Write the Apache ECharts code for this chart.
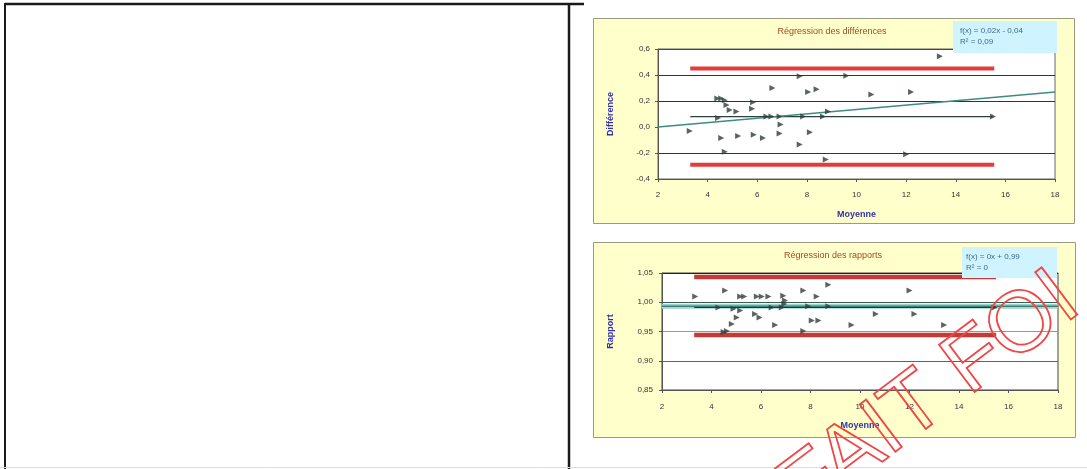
<!DOCTYPE html>
<html>
<head>
<meta charset="utf-8">
<script src="https://cdn.jsdelivr.net/npm/echarts@6/dist/echarts.min.js"></script>
<style>
html,body{margin:0;padding:0;background:#fff;}
#c{width:1087px;height:469px;}
</style>
</head>
<body>
<div id="c"></div>
<script>
// ---- Data: top chart (differences) ----
const diffX = [3.28,4.39,4.55,4.69,4.76,4.89,5.16,4.42,4.55,4.69,5.23,5.83,5.79,5.86,6.23,6.37,6.57,6.61,6.90,6.94,6.90,7.71,7.71,7.85,8.05,8.39,8.12,8.65,8.76,8.85,9.59,10.60,12.20,12.00,13.36,15.50];
const diffY = [-0.03,0.22,0.22,0.205,0.17,0.13,0.12,0.07,-0.085,-0.19,-0.07,0.19,0.14,-0.06,-0.085,0.08,0.08,0.30,0.08,0.02,-0.05,0.39,-0.135,0.08,0.27,0.29,-0.04,0.08,-0.25,0.12,0.395,0.25,0.27,-0.21,0.545,0.08];
const diffRegX = [2, 18];
const diffRegY = [0.00, 0.27];
const diffLimitX = [3.3, 15.55];
const diffUpper = 0.45;
const diffLower = -0.29;
const diffMean = 0.08;
const diffTickLabels = {'-0.4':'-0,4','-0.2':'-0,2','0':'0,0','0.2':'0,2','0.4':'0,4','0.6':'0,6'};

// ---- Data: bottom chart (ratios) ----
const ratioX = [3.34,4.55,5.16,5.32,5.83,6.03,6.30,6.90,6.97,6.94,7.71,8.25,8.72,7.91,8.72,12.00,4.28,4.89,5.16,5.76,5.94,6.57,6.43,6.84,5.02,4.82,4.62,4.49,7.71,8.05,8.32,9.66,10.64,12.20,13.40,15.44];
const ratioY = [1.010,1.020,1.010,1.010,1.010,1.010,1.010,1.011,1.003,0.997,1.020,1.010,1.030,0.993,0.993,1.020,0.991,0.989,0.986,0.980,0.974,0.961,0.991,0.991,0.974,0.963,0.951,0.949,0.951,0.969,0.969,0.961,0.980,0.980,0.961,0.991];
const ratioRegX = [2, 18];
const ratioRegY = [0.993, 0.993];
const ratioLimitX = [3.3, 15.5];
const ratioUpper = 1.043;
const ratioLower = 0.944;
const ratioMean = 0.991;
const ratioTickLabels = {'0.85':'0,85','0.9':'0,90','0.95':'0,95','1':'1,00','1.05':'1,05'};

const xTickLabels = ['2','4','6','8','10','12','14','16','18'];

const titles = ['Régression des différences', 'Régression des rapports'];
const eqTop = ['f(x) = 0,02x - 0,04', 'R² = 0,09'];
const eqBottom = ['f(x) = 0x + 0,99', 'R² = 0'];

const pts = (xs, ys) => xs.map((x, i) => [x, ys[i]]);
const hline = (xs, y) => xs.map(x => [x, y]);

const chart = echarts.init(document.getElementById('c'), null, {renderer: 'canvas'});

const labelStyle = {fontSize: 8, color: '#333', fontFamily: 'Liberation Sans'};
const nameStyle = {fontSize: 9, color: '#3232A8', fontWeight: 'bold', fontFamily: 'Liberation Sans'};

function xAxisFor(idx, margin, gap) {
  return {
    type: 'value', gridIndex: idx, min: 2, max: 18, interval: 2,
    axisLine: {show: true, onZero: false, lineStyle: {color: '#555', width: 1}},
    axisTick: {show: true, length: 3, lineStyle: {color: '#555'}},
    axisLabel: {...labelStyle, margin: margin, formatter: v => xTickLabels[(v - 2) / 2] || ''},
    splitLine: {show: false},
    name: 'Moyenne', nameLocation: 'middle', nameGap: gap, nameTextStyle: nameStyle
  };
}

const option = {
  animation: false,
  backgroundColor: 'transparent',
  grid: [
    {left: 658, top: 49, width: 397, height: 130, show: true, backgroundColor: '#fff', borderColor: '#666', borderWidth: 1},
    {left: 662, top: 273, width: 396, height: 117, show: true, backgroundColor: '#fff', borderColor: '#444', borderWidth: 1}
  ],
  xAxis: [xAxisFor(0, 12, 31), xAxisFor(1, 13, 31)],
  yAxis: [
    {
      type: 'value', gridIndex: 0, min: -0.4, max: 0.6, interval: 0.2,
      axisLine: {show: true, lineStyle: {color: '#555'}},
      axisTick: {show: true, length: 3, lineStyle: {color: '#555'}},
      axisLabel: {...labelStyle, margin: 8, formatter: v => diffTickLabels[String(+v.toFixed(2))] || ''},
      splitLine: {show: true, lineStyle: {color: ['#777', '#333', 'rgba(0,0,0,0)', '#333', '#333', '#444'], width: 1}},
      name: 'Différence', nameLocation: 'middle', nameGap: 43, nameRotate: 90, nameTextStyle: nameStyle
    },
    {
      type: 'value', gridIndex: 1, min: 0.85, max: 1.05, interval: 0.05,
      axisLine: {show: true, lineStyle: {color: '#555'}},
      axisTick: {show: true, length: 3, lineStyle: {color: '#555'}},
      axisLabel: {...labelStyle, margin: 9, formatter: v => ratioTickLabels[String(+v.toFixed(2))] || ''},
      splitLine: {show: true, lineStyle: {color: ['#777', '#4d6b60', '#8a9d9a', '#3d5a55', '#222'], width: 1}},
      name: 'Rapport', nameLocation: 'middle', nameGap: 47, nameRotate: 90, nameTextStyle: nameStyle
    }
  ],
  series: [
    // top chart
    {type: 'line', xAxisIndex: 0, yAxisIndex: 0, data: hline(diffLimitX, diffUpper), showSymbol: false, lineStyle: {color: '#E43B3B', width: 4}, z: 3},
    {type: 'line', xAxisIndex: 0, yAxisIndex: 0, data: hline(diffLimitX, diffLower), showSymbol: false, lineStyle: {color: '#E43B3B', width: 4}, z: 3},
    {type: 'line', xAxisIndex: 0, yAxisIndex: 0, data: hline([3.3, 15.5], diffMean), showSymbol: false, lineStyle: {color: '#2d3f3a', width: 1.2}, z: 3},
    {type: 'line', xAxisIndex: 0, yAxisIndex: 0, data: pts(diffRegX, diffRegY), showSymbol: false, lineStyle: {color: '#3E8C7E', width: 1.5}, z: 4},
    {type: 'scatter', xAxisIndex: 0, yAxisIndex: 0, data: pts(diffX, diffY), symbol: 'triangle', symbolRotate: -90, symbolSize: 6, itemStyle: {color: '#2f3d3a'}, z: 5},
    // bottom chart
    {type: 'line', xAxisIndex: 1, yAxisIndex: 1, data: hline(ratioLimitX, ratioUpper), showSymbol: false, lineStyle: {color: '#C53A36', width: 4.5}, z: 3},
    {type: 'line', xAxisIndex: 1, yAxisIndex: 1, data: hline(ratioLimitX, ratioLower), showSymbol: false, lineStyle: {color: '#C53A36', width: 4.5}, z: 3},
    {type: 'line', xAxisIndex: 1, yAxisIndex: 1, data: pts(ratioRegX, ratioRegY), showSymbol: false, lineStyle: {color: '#9FD3CC', width: 5}, z: 3},
    {type: 'line', xAxisIndex: 1, yAxisIndex: 1, data: pts(ratioRegX, ratioRegY), showSymbol: false, lineStyle: {color: '#3C8478', width: 1.5}, z: 4},
    {type: 'line', xAxisIndex: 1, yAxisIndex: 1, data: hline([3.3, 15.5], ratioMean), showSymbol: false, lineStyle: {color: '#243a34', width: 1.2}, z: 4},
    {type: 'scatter', xAxisIndex: 1, yAxisIndex: 1, data: pts(ratioX, ratioY), symbol: 'triangle', symbolRotate: -90, symbolSize: 6, itemStyle: {color: '#2f3d3a'}, z: 5}
  ],
  graphic: [
    // page frame of the left (empty) box
    {type: 'rect', z: 1, shape: {x: 5, y: 4, width: 564, height: 475}, style: {fill: 'rgba(0,0,0,0)', stroke: '#1a1a1a', lineWidth: 2}},
    {type: 'line', z: 1, shape: {x1: 5, y1: 4, x2: 584, y2: 4}, style: {stroke: '#1a1a1a', lineWidth: 2.5}},
    {type: 'line', z: 1, shape: {x1: 569, y1: 4, x2: 569, y2: 469}, style: {stroke: '#1a1a1a', lineWidth: 2.5}},
    {type: 'line', z: 1, shape: {x1: 0, y1: 467.5, x2: 1087, y2: 467.5}, style: {stroke: '#dddddd', lineWidth: 1}},
    // chart panels
    {type: 'rect', z: -10, shape: {x: 593.5, y: 18.5, width: 481, height: 205}, style: {fill: '#FFFFCC', stroke: '#9a9a80', lineWidth: 1}},
    {type: 'rect', z: -10, shape: {x: 593.5, y: 242.5, width: 482, height: 195}, style: {fill: '#FFFFCC', stroke: '#9a9a80', lineWidth: 1}},
    // titles
    {type: 'text', z: 20, x: 832, y: 32, style: {text: titles[0], font: '9px "Liberation Sans"', fill: '#A04A1E', align: 'center', verticalAlign: 'middle'}},
    {type: 'text', z: 20, x: 833, y: 256, style: {text: titles[1], font: '9px "Liberation Sans"', fill: '#A04A1E', align: 'center', verticalAlign: 'middle'}},
    // equation boxes
    {type: 'rect', z: 50, shape: {x: 953, y: 21, width: 104, height: 32}, style: {fill: '#CFF4FF', stroke: 'rgba(0,0,0,0)'}},
    {type: 'text', z: 51, x: 960, y: 31, style: {text: eqTop[0], font: '8px "Liberation Sans"', fill: '#3a6a88', verticalAlign: 'middle'}},
    {type: 'text', z: 51, x: 960, y: 42, style: {text: eqTop[1], font: '8px "Liberation Sans"', fill: '#3a6a88', verticalAlign: 'middle'}},
    {type: 'rect', z: 50, shape: {x: 962, y: 247, width: 95, height: 31}, style: {fill: '#CFF4FF', stroke: 'rgba(0,0,0,0)'}},
    {type: 'text', z: 51, x: 966, y: 257, style: {text: eqBottom[0], font: '8px "Liberation Sans"', fill: '#3a6a88', verticalAlign: 'middle'}},
    {type: 'text', z: 51, x: 966, y: 268, style: {text: eqBottom[1], font: '8px "Liberation Sans"', fill: '#3a6a88', verticalAlign: 'middle'}},
    // watermark
    {type: 'text', z: 100, x: 930, y: 396, rotation: 37 * Math.PI / 180,
     style: {text: 'FAIT FOI', font: '86px "Liberation Sans"', fill: 'rgba(0,0,0,0)', stroke: '#F04646', lineWidth: 1.8, align: 'center', verticalAlign: 'middle'}}
  ]
};
chart.setOption(option);
</script>
</body>
</html>
